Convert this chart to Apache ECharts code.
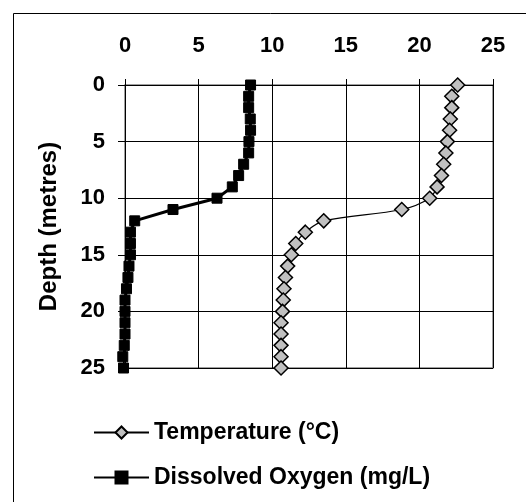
<!DOCTYPE html>
<html>
<head>
<meta charset="utf-8">
<script src="https://cdn.jsdelivr.net/npm/echarts@6/dist/echarts.min.js"></script>
<style>
  html, body { margin: 0; padding: 0; background: #fff; }
  #chart { width: 526px; height: 502px; }
</style>
</head>
<body>
<div id="chart"></div>
<script type="text/javascript">
// depth profile, one reading per metre
var depths = [0, 1, 2, 3, 4, 5, 6, 7, 8, 9, 10, 11, 12, 13, 14, 15, 16, 17, 18, 19, 20, 21, 22, 23, 24, 25];
var temperature = [22.6, 22.2, 22.2, 22.1, 22.05, 21.9, 21.8, 21.65, 21.5, 21.2, 20.7, 18.8, 13.5,
                   12.25, 11.6, 11.3, 11.05, 10.9, 10.8, 10.75, 10.7, 10.6, 10.6, 10.6, 10.6, 10.6];
var oxygen = [8.53, 8.4, 8.4, 8.51, 8.53, 8.42, 8.4, 8.06, 7.72, 7.29, 6.25, 3.26, 0.66,
              0.37, 0.37, 0.37, 0.27, 0.2, 0.1, 0, 0, 0, 0, -0.05, -0.15, -0.1];
var tickValues = [0, 5, 10, 15, 20, 25];

var FONT = "'Liberation Sans', Arial, sans-serif";

function pairs(vals) {
    var out = [];
    for (var i = 0; i < depths.length; i++) {
        out.push([vals[i], depths[i]]);
    }
    return out;
}

var chart = echarts.init(document.getElementById('chart'));

var option = {
    animation: false,
    backgroundColor: '#fff',
    graphic: [{
        type: 'rect',
        left: 11, top: 11,
        shape: { width: 700, height: 700 },
        style: { fill: 'none', stroke: '#000', lineWidth: 1 },
        z: -10
    }],
    grid: {
        left: 125, right: 33, top: 85, bottom: 134,
        show: true,
        borderColor: '#808080',
        borderWidth: 1.5,
        backgroundColor: '#fff'
    },
    legend: {
        orient: 'vertical',
        left: 88, top: 416,
        itemWidth: 55, itemHeight: 15,
        itemGap: 22,
        textStyle: { fontFamily: FONT, fontWeight: 'bold', fontSize: 23, color: '#000' },
        data: ['Temperature (°C)', 'Dissolved Oxygen (mg/L)']
    },
    xAxis: {
        type: 'value',
        position: 'top',
        min: tickValues[0], max: tickValues[tickValues.length - 1], interval: 5,
        axisLine: { show: true, lineStyle: { color: '#000', width: 1 } },
        axisTick: { show: true, inside: false, length: 6, lineStyle: { color: '#000' } },
        axisLabel: { margin: 28, fontFamily: FONT, fontWeight: 'bold', fontSize: 22, color: '#000' },
        splitLine: { show: true, lineStyle: { color: '#000', width: 1 } }
    },
    yAxis: {
        type: 'value',
        inverse: true,
        min: tickValues[0], max: tickValues[tickValues.length - 1], interval: 5,
        name: 'Depth (metres)',
        nameLocation: 'middle',
        nameGap: 64,
        nameTextStyle: { fontFamily: FONT, fontWeight: 'bold', fontSize: 24, color: '#000' },
        axisLine: { show: true, lineStyle: { color: '#000', width: 1 } },
        axisTick: { show: true, inside: false, length: 7, lineStyle: { color: '#000' } },
        axisLabel: { margin: 20, fontFamily: FONT, fontWeight: 'bold', fontSize: 22, color: '#000' },
        splitLine: { show: true, lineStyle: { color: '#000', width: 1 } }
    },
    series: [
        {
            name: 'Temperature (°C)',
            type: 'line',
            data: pairs(temperature),
            smooth: 0.35,
            clip: false,
            symbol: 'diamond',
            symbolSize: 14,
            lineStyle: { color: '#000', width: 1.2 },
            itemStyle: { color: '#c0c0c0', borderColor: '#000', borderWidth: 1.5 },
            z: 3
        },
        {
            name: 'Dissolved Oxygen (mg/L)',
            type: 'line',
            data: pairs(oxygen),
            clip: false,
            symbol: 'rect',
            symbolSize: 10,
            lineStyle: { color: '#000', width: 3 },
            itemStyle: { color: '#000', borderColor: '#000', borderWidth: 1 },
            z: 4
        }
    ]
};

chart.setOption(option);
</script>
</body>
</html>
